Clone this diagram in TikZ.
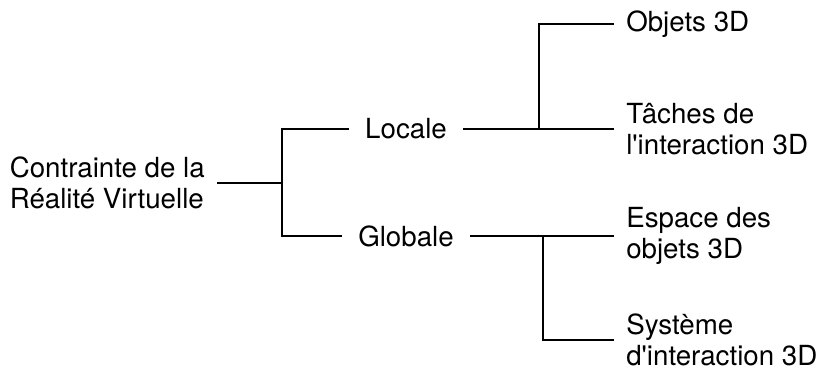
\documentclass[tikz,border=0pt]{standalone}
\usepackage{fontspec}
\setmainfont{TeX Gyre Heros}
\usepackage{tikz}
\usetikzlibrary{positioning,calc}

\begin{document}
\begin{tikzpicture}[
  every node/.style={font=\fontsize{19.7}{22.3}\selectfont},
  rootnode/.style={align=left, inner xsep=0.3cm, inner ysep=0pt},
  midnode/.style={inner xsep=0.4cm, inner ysep=0pt},
  leafnode/.style={anchor=west, align=left, inner xsep=0.3cm, inner ysep=0pt},
  branch/.style={line width=1.4pt}
]
  \useasboundingbox (0,0) rectangle (20.45,-9.225);

  \node[rootnode, anchor=east] (root) at (5.425,-4.575) {Contrainte de la\\R\'ealit\'e Virtuelle};

  \node[midnode] (loc) at (10.15,-3.225) {Locale};
  \node[midnode] (glob) at (10.15,-5.9) {Globale};

  \node[leafnode] (obj) at (15.35,-0.6) {Objets 3D};
  \node[leafnode] (tac) at (15.35,-3.225) {T\^aches de\\l\textquotesingle interaction 3D};
  \node[leafnode] (esp) at (15.35,-5.9) {Espace des\\objets 3D};
  \node[leafnode] (sys) at (15.35,-8.5) {Syst\`eme\\d\textquotesingle interaction 3D};

  \coordinate (j1) at (7.05,-4.575);
  \coordinate (j2) at (13.475,-3.225);
  \coordinate (j3) at (13.575,-5.9);

  \draw[branch] (root) -- (j1);
  \draw[branch] (j1) |- (loc);
  \draw[branch] (j1) |- (glob);

  \draw[branch] (loc) -- (tac);
  \draw[branch] (j2) |- (obj);

  \draw[branch] (glob) -- (esp);
  \draw[branch] (j3) |- (sys);
\end{tikzpicture}
\end{document}
